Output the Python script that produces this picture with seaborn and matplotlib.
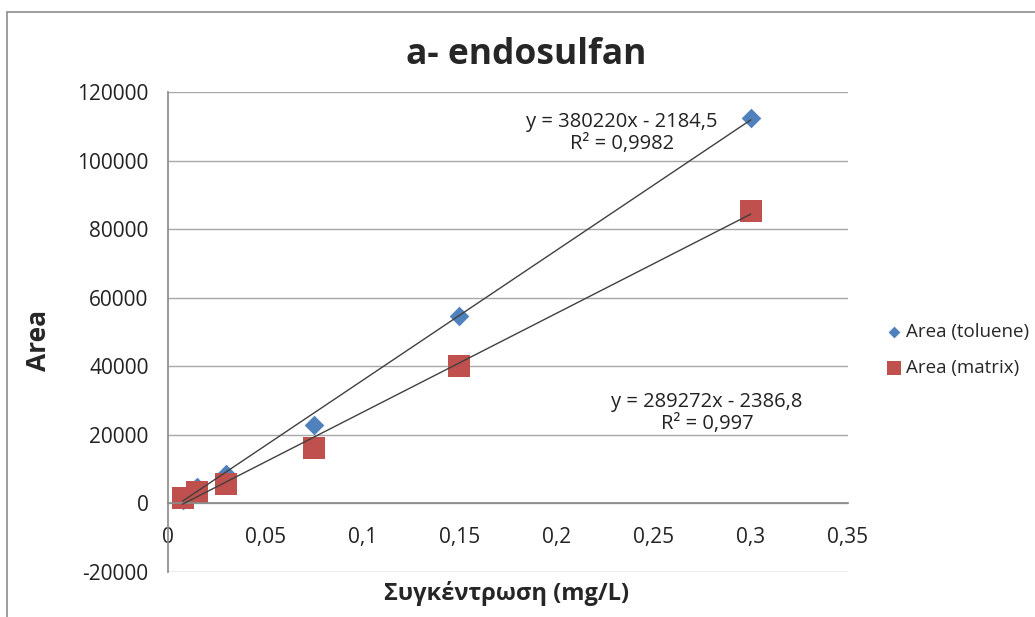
import numpy as np
import pandas as pd
import seaborn as sns
import matplotlib.pyplot as plt
from matplotlib.patches import Rectangle

# concentrations (mg/L) and peak areas
conc = [0.0075, 0.015, 0.03, 0.075, 0.15, 0.3]
area_toluene = [1000, 4700, 8450, 23000, 54800, 112500]
area_matrix = [1500, 3200, 5800, 16300, 40000, 85400]

series_names = ['Area (toluene)', 'Area (matrix)']
slopes = [380220, 289272]
intercepts = [-2184.5, -2386.8]
equations = ['y = 380220x - 2184,5\nR² = 0,9982',
             'y = 289272x - 2386,8\nR² = 0,997']

x_ticks = [0, 0.05, 0.1, 0.15, 0.2, 0.25, 0.3, 0.35]
x_tick_labels = ['0', '0,05', '0,1', '0,15', '0,2', '0,25', '0,3', '0,35']
y_ticks = [-20000, 0, 20000, 40000, 60000, 80000, 100000, 120000]

sns.set_theme(style='white')
plt.rcParams['font.family'] = ['Open Sans', 'DejaVu Sans']

df = pd.DataFrame({
    'conc': conc * 2,
    'area': area_toluene + area_matrix,
    'series': [series_names[0]] * len(conc) + [series_names[1]] * len(conc),
})

fig = plt.figure(figsize=(10.35, 6.17), dpi=100)
fig.patches.append(Rectangle((7 / 1035, -0.1), 1.2, 1 - 12 / 617 + 0.1,
                             transform=fig.transFigure, fill=False,
                             edgecolor='#8c8c8c', linewidth=1.2))
ax = fig.add_axes([168 / 1035, 1 - 572 / 617, 680 / 1035, 480 / 617])

# trendlines from the fitted equations, over the data range
xs = np.array([min(conc), max(conc)])
for slope, intercept in zip(slopes, intercepts):
    ax.plot(xs, slope * xs + intercept, color='#404040', linewidth=1.0, zorder=3)

styles = {series_names[0]: ('D', 100, '#4F81BD'),
          series_names[1]: ('s', 250, '#C0504D')}
for name, (marker, size, color) in styles.items():
    sns.scatterplot(data=df[df['series'] == name], x='conc', y='area',
                    marker=marker, s=size, color=color, linewidth=0,
                    label=name, legend=False, ax=ax, zorder=2)

ax.set_xlim(0, 0.35)
ax.set_ylim(-20000, 120000)
ax.set_xticks(x_ticks)
ax.set_xticklabels(x_tick_labels)
ax.set_yticks(y_ticks)
ax.set_yticklabels([str(v) for v in y_ticks])
ax.tick_params(axis='both', labelsize=15, colors='#222222', length=0)
ax.tick_params(axis='y', pad=14)
ax.tick_params(axis='x', pad=17)

ax.grid(axis='y', color='#a8a8a8', linewidth=1.0)
ax.set_axisbelow(True)
for side in ['top', 'right']:
    ax.spines[side].set_visible(False)
ax.spines['bottom'].set_position(('data', 0))
ax.spines['bottom'].set_color('#8c8c8c')
ax.spines['left'].set_color('#8c8c8c')

ax.set_xlabel('')
ax.set_ylabel('')
fig.text(507 / 1035, 1 - 593 / 617, 'Συγκέντρωση (mg/L)', ha='center', va='center',
         fontsize=17, fontweight='bold')
fig.text(38 / 1035, 1 - 340 / 617, 'Area', ha='center', va='center', rotation=90,
         fontsize=19, fontweight='bold')
fig.text(526 / 1035, 1 - 55 / 617, 'a- endosulfan', ha='center', va='center',
         fontsize=25.5, fontweight='bold')

ax.text(0.2335, 108000, equations[0], ha='center', va='center', fontsize=14.5,
        color='#222222', linespacing=1.15)
ax.text(0.2775, 26300, equations[1], ha='center', va='center', fontsize=14.5,
        color='#222222', linespacing=1.15)

handles, labels = ax.get_legend_handles_labels()
fig.legend(handles, labels, loc='center left',
           bbox_to_anchor=(866 / 1035, 1 - 350 / 617),
           frameon=False, fontsize=13.5, handletextpad=0.05, labelspacing=1.0,
           markerscale=0.6, handlelength=1.2)

fig.savefig('out.png', dpi=100)
